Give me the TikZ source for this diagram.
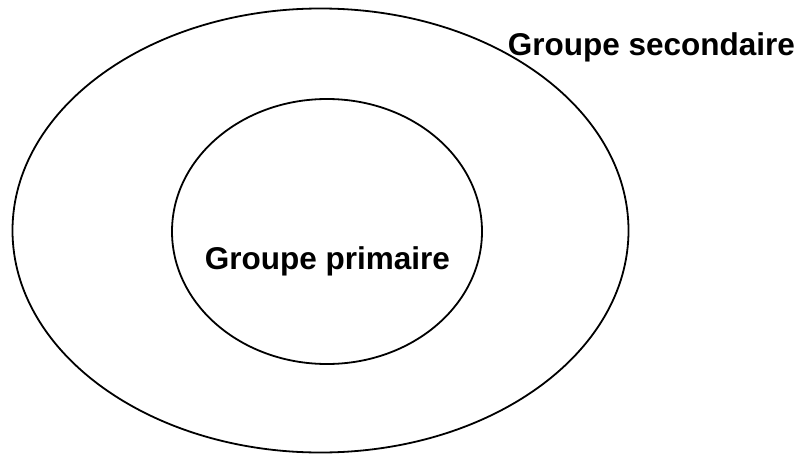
\documentclass[tikz,border=0pt]{standalone}
\usepackage{fontspec}
\setmainfont{Liberation Sans}
\usepackage{tikz}

\begin{document}
\begin{tikzpicture}[x=1pt,y=-1pt,line width=1.8pt,
		grplabel/.style={inner sep=0pt,font=\fontsize{31.5}{36}\selectfont\bfseries}]
			\useasboundingbox (0,0) rectangle (803,455);
			% secondary group
			\draw (320.5,230.5) ellipse [x radius=308pt, y radius=222pt];
			% primary group
			\draw (327,231.5) ellipse [x radius=155pt, y radius=132.5pt];
			\node[grplabel,anchor=base west] (secondaire) at (507,55) {Groupe secondaire};
			\node[grplabel,anchor=base] (primaire) at (327.5,269) {Groupe primaire};
		\end{tikzpicture}
\end{document}
